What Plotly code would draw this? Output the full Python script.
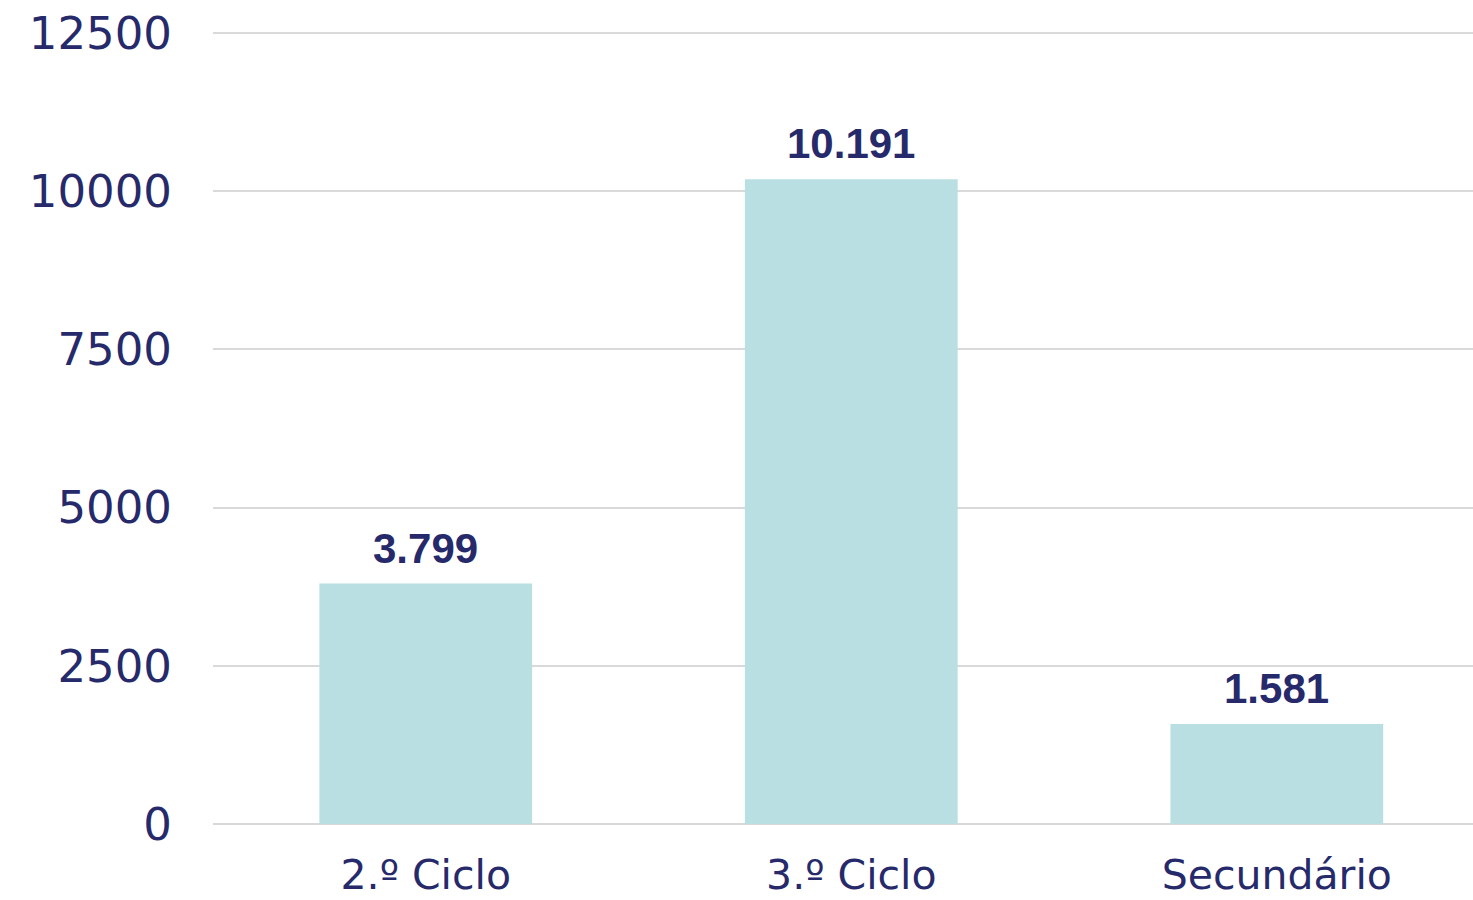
import plotly.graph_objects as go

categories = ["2.º Ciclo", "3.º Ciclo", "Secundário"]
values = [3799, 10191, 1581]
y_ticks = [0, 2500, 5000, 7500, 10000, 12500]

navy = "#262a6b"
bar_color = "#b9dfe2"

fig = go.Figure()
fig.add_trace(go.Bar(x=categories, y=values, marker_color=bar_color, marker_line_width=0,
                     hoverinfo="skip"))

for c, v in zip(categories, values):
    fig.add_annotation(x=c, y=v, text=f"{v:,}".replace(",", "."), showarrow=False,
                       yanchor="bottom", yshift=10,
                       font=dict(family="Liberation Sans, Arial", size=42, color=navy, weight="bold"))

fig.update_layout(
    width=1473, height=900,
    margin=dict(l=213, r=0, t=31, b=76, autoexpand=False),
    paper_bgcolor="white", plot_bgcolor="white",
    bargap=0.5,
    showlegend=False,
    font=dict(family="DejaVu Sans", size=43, color=navy),
)
fig.update_xaxes(range=[-0.5, 2.461], showgrid=False, showline=False, ticks="", automargin=False,
                 tickfont=dict(family="DejaVu Sans", size=41, color=navy), ticklabelstandoff=23)
fig.update_yaxes(range=[0, 12532], tickvals=y_ticks, ticktext=[str(t) for t in y_ticks],
                 showgrid=True, gridcolor="#d9d9d9", gridwidth=2, zeroline=True, automargin=False,
                 zerolinecolor="#d9d9d9", zerolinewidth=2, showline=False, ticks="",
                 tickfont=dict(family="DejaVu Sans", size=45, color=navy), ticklabelstandoff=40)

fig.write_html("out.html", config={"displayModeBar": False},
               post_script="document.body.style.margin='0';document.body.style.overflow='hidden';")
